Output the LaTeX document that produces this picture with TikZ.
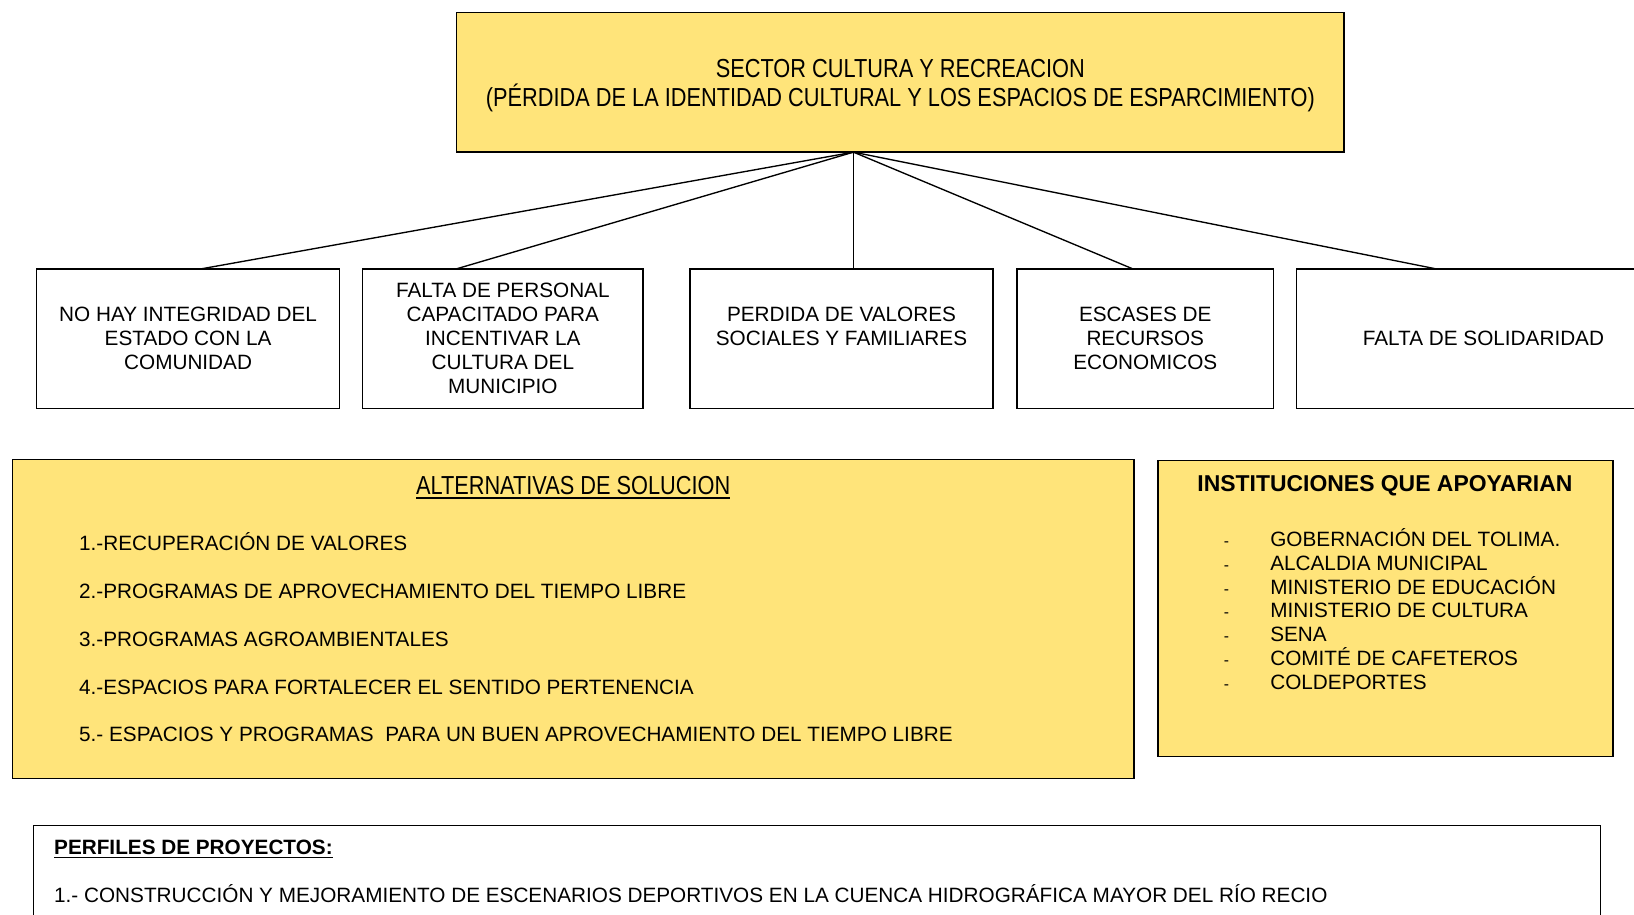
\documentclass[tikz,border=0pt]{standalone}
\usepackage{fontspec}
\setmainfont{Liberation Sans}
\newfontfamily\narrowfont[FakeStretch=0.835]{Liberation Sans}
\definecolor{boxyellow}{RGB}{255,228,122}
\begin{document}
\begin{tikzpicture}[x=1pt,y=-1pt,
  every node/.style={inner sep=0pt, outer sep=0pt},
  body/.style={font=\fontsize{19.9}{23}\selectfont},
  causebox/.style={draw, line width=1.4pt, fill=white, minimum height=134pt, align=center, body},
  ybox/.style={draw, line width=1.6pt, fill=boxyellow},
  link/.style={line width=1.3pt},
  item/.style={anchor=base west, body},
  dashmark/.style={anchor=base, font=\fontsize{15}{18}\selectfont},
  narrowhead/.style={font=\narrowfont\fontsize{25}{28}\selectfont},
]
\useasboundingbox (0,0) rectangle (1568,878);
\clip (0,0) rectangle (1568,878);

% title
\node[ybox, minimum width=852pt, minimum height=134pt] (title) at (864,79) {};
\node[align=center, narrowhead] (titleT) at (864,82)
  {SECTOR CULTURA Y RECREACION\\(PÉRDIDA DE LA IDENTIDAD CULTURAL Y LOS ESPACIOS DE ESPARCIMIENTO)};
\coordinate (hub) at ([xshift=381pt]title.south west);

% causes
\node[causebox, minimum width=291pt] (b1) at (180.5,325) {NO HAY INTEGRIDAD DEL\\ESTADO CON LA\\COMUNIDAD};
\node[causebox, minimum width=269pt] (b2) at (482.5,325) {FALTA DE PERSONAL\\CAPACITADO PARA\\INCENTIVAR LA\\CULTURA DEL\\MUNICIPIO};
\node[causebox, minimum width=291pt] (b3) at (807.5,325) {};
\node[body, align=center] (b3t) at (807.5,313.5) {PERDIDA DE VALORES\\SOCIALES Y FAMILIARES};
\node[causebox, minimum width=246pt] (b4) at (1099,325) {ESCASES DE\\RECURSOS\\ECONOMICOS};
\node[causebox, minimum width=359pt] (b5) at (1423.5,325) {FALTA DE SOLIDARIDAD};

\draw[link] (hub) -- ([xshift=158pt]b1.north west);
\draw[link] (hub) -- ([xshift=90pt]b2.north west);
\draw[link] (hub) -- ([xshift=157pt]b3.north west);
\draw[link] (hub) -- ([xshift=111pt]b4.north west);
\draw[link] (hub) -- ([xshift=134pt]b5.north west);

% alternativas
\node[ybox, minimum width=1076pt, minimum height=306pt] (alt) at (550,594) {};
\node[anchor=base, narrowhead] (altT) at (550,474.5) {ALTERNATIVAS DE SOLUCION};
\draw[line width=1.6pt] ([yshift=-3.5pt]altT.base west) -- ([yshift=-3.5pt]altT.base east);
\node[item] (a1) at (76,528) {1.-RECUPERACIÓN DE VALORES};
\node[item] (a2) at (76,574) {2.-PROGRAMAS DE APROVECHAMIENTO DEL TIEMPO LIBRE};
\node[item] (a3) at (76,620) {3.-PROGRAMAS AGROAMBIENTALES};
\node[item] (a4) at (76,666) {4.-ESPACIOS PARA FORTALECER EL SENTIDO PERTENENCIA};
\node[item] (a5) at (76,712) {5.- ESPACIOS Y PROGRAMAS \ PARA UN BUEN APROVECHAMIENTO DEL TIEMPO LIBRE};

% instituciones
\node[ybox, minimum width=437pt, minimum height=284pt] (inst) at (1329.5,584) {};
\node[anchor=base, font=\bfseries\fontsize{22}{26}\selectfont] (instT) at (1329,472) {INSTITUCIONES QUE APOYARIAN};
\foreach \t [count=\i] in {GOBERNACIÓN DEL TOLIMA.,ALCALDIA MUNICIPAL,MINISTERIO DE EDUCACIÓN,MINISTERIO DE CULTURA,SENA,COMITÉ DE CAFETEROS,COLDEPORTES}{
  \node[dashmark] (d\i) at (1177,{501+23*\i}) {-};
  \node[item] (i\i) at (1219,{501+23*\i}) {\t};
}

% perfiles
\node[draw, line width=1.4pt, fill=white, minimum width=1504pt, minimum height=120pt] (perf) at (784,852) {};
\node[anchor=base west, font=\bfseries\fontsize{19.9}{23}\selectfont] (pT) at (52,820) {PERFILES DE PROYECTOS:};
\draw[line width=1.3pt] ([yshift=-3pt]pT.base west) -- ([yshift=-3pt]pT.base east);
\node[item] (p1) at (52,866) {1.- CONSTRUCCIÓN Y MEJORAMIENTO DE ESCENARIOS DEPORTIVOS EN LA CUENCA HIDROGRÁFICA MAYOR DEL RÍO RECIO};
\end{tikzpicture}
\end{document}
